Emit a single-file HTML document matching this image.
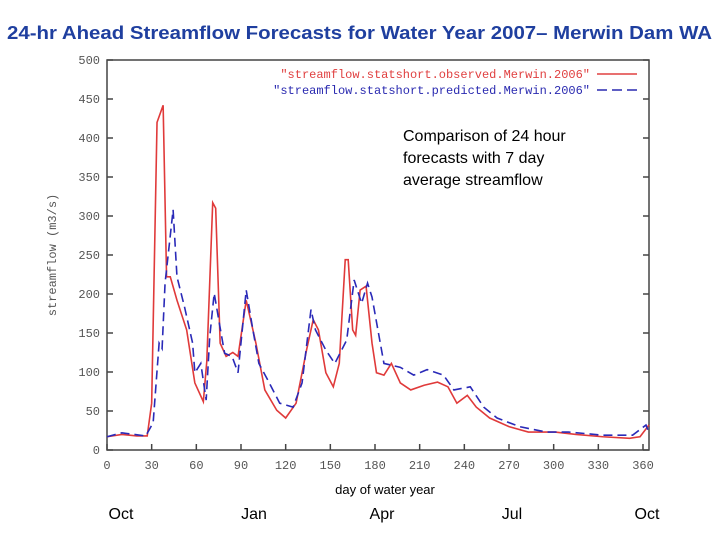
<!DOCTYPE html>
<html><head><meta charset="utf-8"><style>
body{margin:0;background:#fff;width:720px;height:540px;overflow:hidden;font-family:"Liberation Sans",sans-serif}
</style></head><body>
<svg width="720" height="540">
<text x="7" y="39" textLength="705" lengthAdjust="spacingAndGlyphs" font-size="18.5" font-weight="bold" fill="#1f3f9f">24-hr  Ahead Streamflow Forecasts for  Water Year 2007– Merwin Dam WA</text>
<g id="axes"></g>
<g id="series"></g>
<text x="56" y="255" transform="rotate(-90 56 255)" text-anchor="middle" font-family="Liberation Mono,monospace" font-size="12" fill="#555">streamflow (m3/s)</text>
<text x="385" y="494" text-anchor="middle" font-size="13" fill="#000">day of water year</text>
<text x="590" y="78" text-anchor="end" font-family="Liberation Mono,monospace" font-size="12" fill="#e04040">"streamflow.statshort.observed.Merwin.2006"</text>
<line x1="597" y1="74" x2="637" y2="74" stroke="#e04040" stroke-width="1.5"/>
<text x="590" y="94" text-anchor="end" font-family="Liberation Mono,monospace" font-size="12" fill="#2a2ab0">"streamflow.statshort.predicted.Merwin.2006"</text>
<line x1="597" y1="90" x2="637" y2="90" stroke="#2a2ab0" stroke-width="1.5" stroke-dasharray="10,5"/>
<g font-size="16" fill="#000">
<text x="403" y="141">Comparison of 24 hour</text>
<text x="403" y="163">forecasts with 7 day</text>
<text x="403" y="185">average  streamflow</text>
</g>
<g id="months" font-size="16" fill="#000"></g>
</svg>
<script>
const xTicks=[0,30,60,90,120,150,180,210,240,270,300,330,360];
const yTicks=[0,50,100,150,200,250,300,350,400,450,500];
const monthLabels=["Oct","Jan","Apr","Jul","Oct"];
const obsDays=[0,10,20,27,30,33.6,37.7,40,42.5,47,53.5,59,64.7,67,71,73,76,80,84.5,88,93.5,100,106,114,120,127,134,138.5,142,147,152,156,160,162,165,167,170,174,178,181,186,191,197,204,213,222,229,235,242,248,257,270,283,301,315,333,351,358,364];
const obsVals=[17,20,18,18,60,420,442,222,222,192,154,86,62,113,317,310,137,120,125,120,192,137,77,51,41,60,128,167,154,99,81,111,244,244,154,147,205,210,137,99,96,111,86,77,83,87,81,60,70,55,41,30,23,23,20,17,15,17,32];
const predDays=[0,10,26,31,35,37,39,44.4,47,52,57.5,59,63,66.6,69,72,75.5,79,84,88,93.5,98,102,109,116,125,131,137,140,147,153,161,166,171,175,178,186,197,206,215,226,233,244,253,262,277,295,310,333,353,362,364];
const predVals=[17,22,18,35,137,130,214,308,222,184,137,99,111,64,145,201,162,124,120,99,205,154,111,86,60,55,86,180,154,128,111,141,218,188,214,196,111,106,96,103,96,77,81,55,41,30,23,23,19,19,32,22];
const X0=107,X1=649,Y0=450,Y1=60;
const xs=d=>X0+d*(643-107)/360;
const ys=v=>Y0-v*(Y0-Y1)/500;
const NS="http://www.w3.org/2000/svg";
function mk(t,a,p){const e=document.createElementNS(NS,t);for(const k in a)e.setAttribute(k,a[k]);p.appendChild(e);return e;}
const ax=document.getElementById('axes');
const frame=mk('rect',{x:X0,y:Y1,width:X1-X0,height:Y0-Y1,fill:'none',stroke:'#444','stroke-width':1.5},ax);


xTicks.forEach(t=>{
 const l=mk('line',{x1:xs(t),x2:xs(t),y1:Y0,y2:Y0-6,stroke:'#444','stroke-width':1.5},ax);
 
 
 const tx=mk('text',{x:xs(t),y:Y0+19,'text-anchor':'middle','font-family':'Liberation Mono,monospace','font-size':12,fill:'#555'},ax);
 tx.textContent=t;
 
 
});
yTicks.forEach(t=>{
 const l=mk('line',{x1:X0,x2:X0+6,y1:ys(t),y2:ys(t),stroke:'#444','stroke-width':1.5},ax);
 
 
 const l2=mk('line',{x1:X1,x2:X1-6,y1:ys(t),y2:ys(t),stroke:'#444','stroke-width':1.5},ax);
 
 
 const tx=mk('text',{x:X0-7,y:ys(t)+4,'text-anchor':'end','font-family':'Liberation Mono,monospace','font-size':12,fill:'#555'},ax);
 tx.textContent=t;
 
 
});
const sg=document.getElementById('series');
const obs=mk('polyline',{points:obsDays.map((d,i)=>xs(d)+','+ys(obsVals[i])).join(' '),fill:'none',stroke:'#e03a3a','stroke-width':1.6},sg);


const pr=mk('polyline',{points:predDays.map((d,i)=>xs(d)+','+ys(predVals[i])).join(' '),fill:'none',stroke:'#2a2ab8','stroke-width':1.6,'stroke-dasharray':'9,5'},sg);


const mg=document.getElementById('months');
const mx=[121,254,382,512,647];
monthLabels.forEach((m,i)=>{
 const t=mk('text',{x:mx[i],y:519,'text-anchor':'middle'},mg);
 t.textContent=m;
 
 
});
</script>
</body></html>
